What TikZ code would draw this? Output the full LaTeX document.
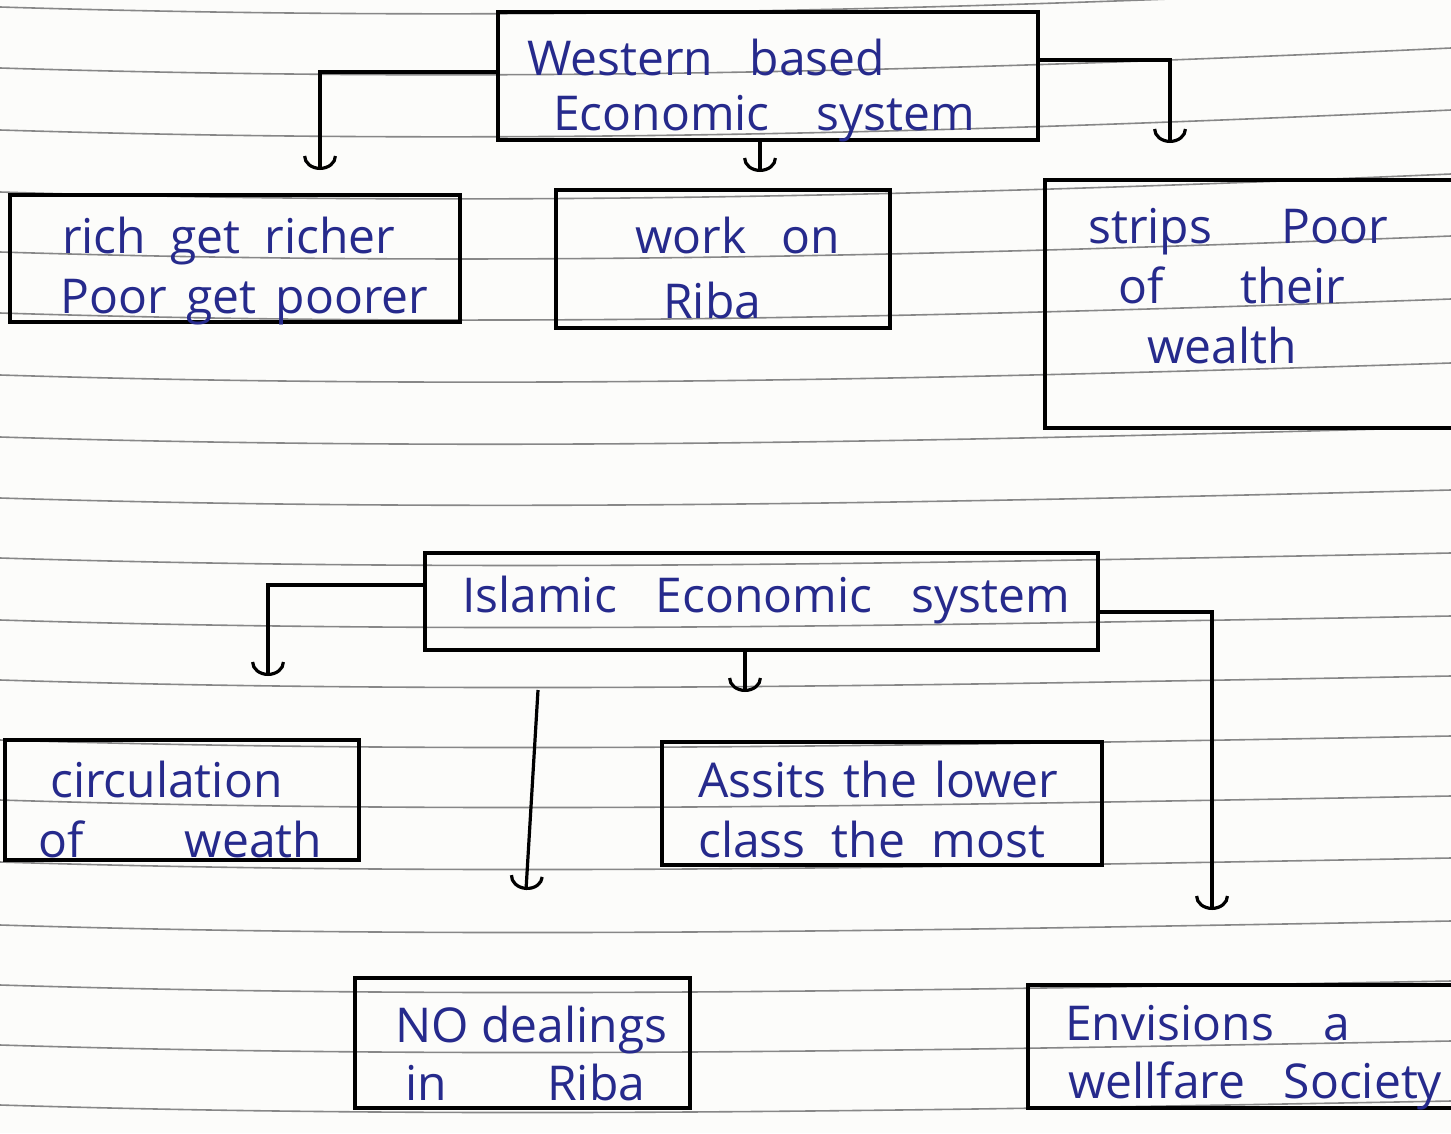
\documentclass[tikz,border=0pt]{standalone}
\usepackage{fontspec}
\setmainfont{Open Sans}
\usetikzlibrary{arrows.meta}
\definecolor{ink}{RGB}{38,42,140}
\definecolor{rulegray}{RGB}{135,135,135}
\definecolor{paper}{RGB}{252,252,250}
\newcommand{\hwl}[2]{\makebox[#1][s]{#2}}
\begin{document}
\begin{tikzpicture}[x=1pt,y=-1pt,
  box/.style={draw=black,line width=3.4pt,inner sep=0pt},
  txt/.style={anchor=base west,inner sep=0pt,text=ink,font=\fontsize{48}{56}\selectfont},
  conn/.style={draw=black,line width=3.2pt,-{Arc Barb[length=14pt,width=34pt]}},
  ruleline/.style={draw=rulegray,line width=1.6pt}]
\useasboundingbox (0,0) rectangle (1451,1133);
\fill[paper] (0,0) rectangle (1451,1133);
\clip (0,0) rectangle (1451,1133);
% ruled paper
\foreach \y/\dy in {7/20,68/20,130/20,192/18,252/16,313/14,375/12,437/10,498/8,558/5,620/4,680/4,740/4,800/4,862/4,925/4,985/4,1045/4,1105/4} {
  \draw[ruleline] (0,\y) .. controls (450,\y+14) and (900,\y+6) .. (1451,\y-\dy);
}
% boxes
\node[box,minimum width=540pt,minimum height=128pt] (b1) at (768,76) {};
\node[box,minimum width=450pt,minimum height=127pt] (b2) at (235,258.5) {};
\node[box,minimum width=334pt,minimum height=138pt] (b3) at (723,259) {};
\node[box,minimum width=425pt,minimum height=248pt] (b4) at (1257.5,304) {};
\node[box,minimum width=673pt,minimum height=97pt] (b5) at (761.5,601.5) {};
\node[box,minimum width=354pt,minimum height=120pt] (b6) at (182,800) {};
\node[box,minimum width=440pt,minimum height=123pt] (b7) at (882,803.5) {};
\node[box,minimum width=335pt,minimum height=130pt] (b8) at (522.5,1043) {};
\node[box,minimum width=452pt,minimum height=123pt] (b9) at (1254,1046.5) {};
% texts
\node[txt] (t1a) at (527,75) {\hwl{358pt}{Western based}};
\node[txt] (t1b) at (553,130) {\hwl{422pt}{Economic system}};
\node[txt] (t2a) at (62,253) {\hwl{333pt}{rich get richer}};
\node[txt] (t2b) at (60,313) {\hwl{368pt}{Poor get poorer}};
\node[txt] (t3a) at (635,253) {\hwl{205pt}{work on}};
\node[txt] (t3b) at (663,318) {Riba};
\node[txt] (t4a) at (1088,243) {\hwl{300pt}{strips Poor}};
\node[txt] (t4b) at (1118,303) {\hwl{227pt}{of their}};
\node[txt] (t4c) at (1147,363) {wealth};
\node[txt] (t5) at (462,612) {\hwl{608pt}{Islamic Economic system}};
\node[txt] (t6a) at (50,797) {circulation};
\node[txt] (t6b) at (38,857) {\hwl{284pt}{of weath}};
\node[txt] (t7a) at (698,797) {\hwl{360pt}{Assits the lower}};
\node[txt] (t7b) at (698,857) {\hwl{347pt}{class the most}};
\node[txt] (t8a) at (395,1042) {NO dealings};
\node[txt] (t8b) at (405,1100) {\hwl{240pt}{in Riba}};
\node[txt] (t9a) at (1065,1040) {\hwl{285pt}{Envisions a}};
\node[txt] (t9b) at (1068,1098) {\hwl{374pt}{wellfare Society}};
% connector ends
\coordinate (a1) at (320,170);
\coordinate (a2) at (760,172);
\coordinate (a3) at (1170,143);
\coordinate (c1) at (268,676);
\coordinate (c2) at (745,692);
\coordinate (c3s) at (538,690);
\coordinate (c3) at (526,890);
\coordinate (c4) at (1212,910);
% connectors
\draw[conn] (b1.west |- 0,72) -| (a1);
\draw[conn] (b1.south -| 760,0) -- (a2);
\draw[conn] (b1.east |- 0,60) -| (a3);
\draw[conn] (b5.west |- 0,585) -| (c1);
\draw[conn] (b5.south -| 745,0) -- (c2);
\draw[conn] (c3s) -- (c3);
\draw[conn] (b5.east |- 0,612) -| (c4);
\end{tikzpicture}
\end{document}
